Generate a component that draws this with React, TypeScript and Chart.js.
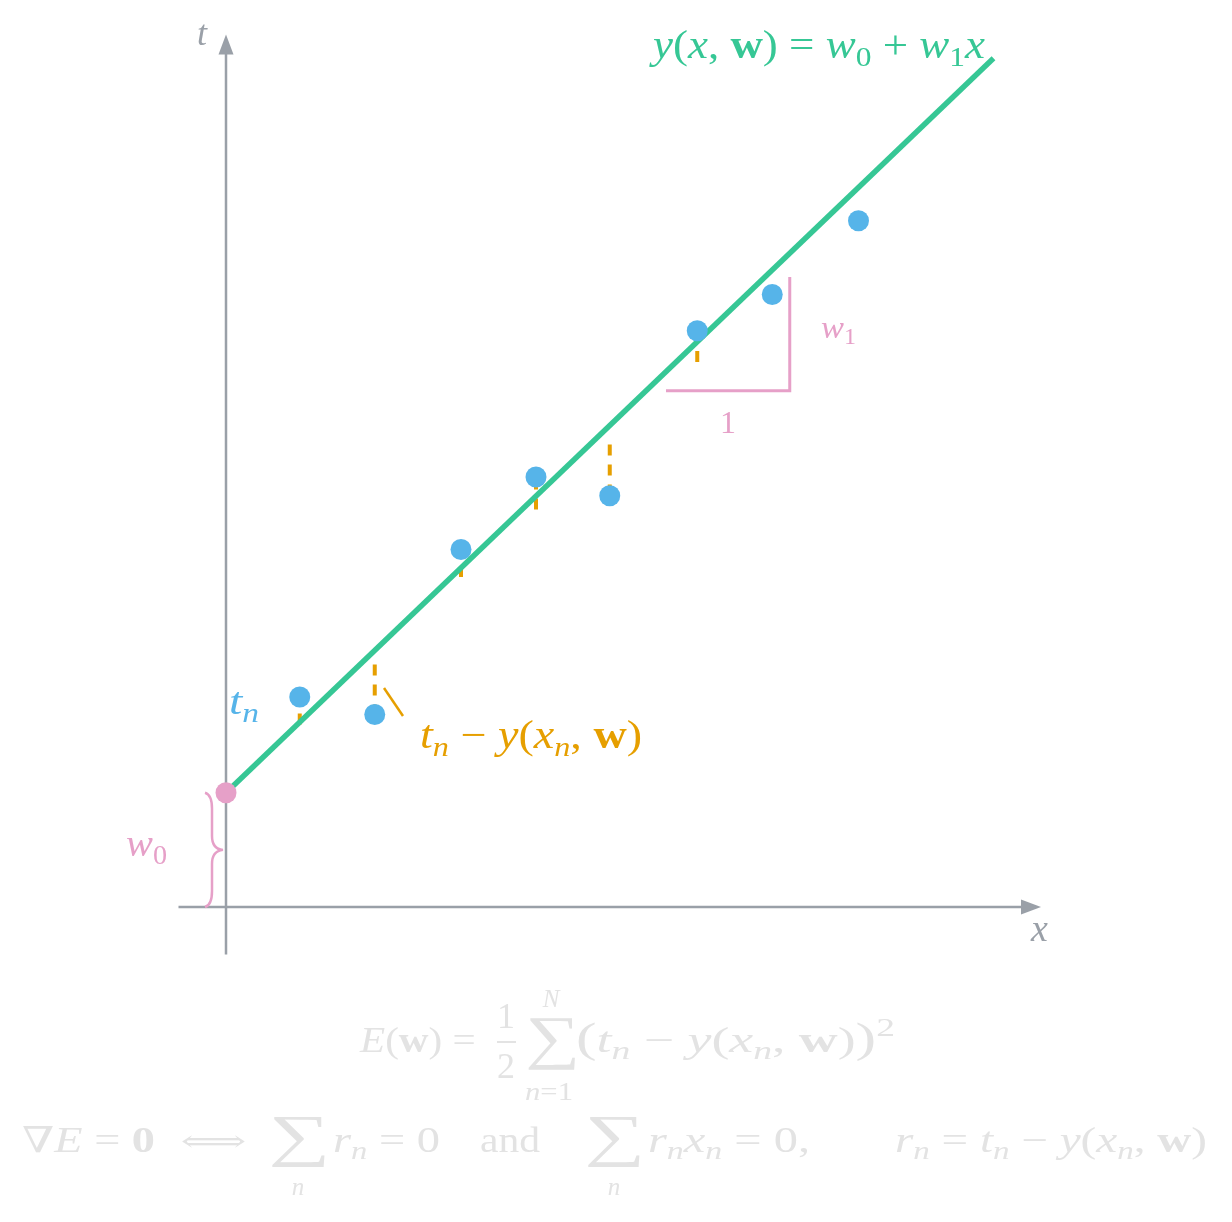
import { useEffect, useRef } from 'react';
import { Chart, registerables } from 'chart.js';

Chart.register(...registerables);

// observations (x_n, t_n)
const xs = [0.59, 1.19, 1.88, 2.48, 3.07, 3.77, 4.37, 5.06];
const ts = [1.68, 1.54, 2.86, 3.44, 3.29, 4.61, 4.9, 5.49];
// where each dashed residual mark ends, y(x_n, w)
const fitted = [1.46, 1.94, 2.64, 3.18, 3.7, 4.36, 4.9, 5.54];
// the drawn regression line
const lineX = [0, 6.14];
const lineY = [0.914, 6.79];
const w0 = 0.914;
// slope triangle (run of 1, rise of w1)
const slopeX = [3.52, 4.51, 4.51];
const slopeY = [4.13, 4.13, 5.04];

const BLUE = '#56b4e9';
const GREEN = '#36c795';
const ORANGE = '#e69f00';
const PINK = '#e6a0c8';
const GRAY = '#9aa0a8';
const LIGHT = '#e3e3e3';
const SERIF = '"Liberation Serif", "DejaVu Serif", serif';

type Piece = { t: string; f?: 'i' | 'b'; pos?: 'sub' | 'sup'; s?: number };

function setFont(ctx: CanvasRenderingContext2D, p: Piece, size: number) {
  const k = p.s ?? (p.pos ? 0.7 : 1);
  ctx.font = `${p.f === 'i' ? 'italic ' : ''}${p.f === 'b' ? 'bold ' : ''}${size * k}px ${SERIF}`;
}

function runWidth(ctx: CanvasRenderingContext2D, pieces: Piece[], size: number) {
  let w = 0;
  for (const p of pieces) {
    setFont(ctx, p, size);
    w += ctx.measureText(p.t).width;
  }
  return w;
}

// lay out a row of text pieces; optional width stretches it horizontally
function drawRun(
  ctx: CanvasRenderingContext2D,
  pieces: Piece[],
  x: number,
  y: number,
  size: number,
  color: string,
  align: 'left' | 'right' | 'center' = 'left',
  width?: number
) {
  ctx.save();
  ctx.fillStyle = color;
  ctx.textAlign = 'left';
  ctx.textBaseline = 'alphabetic';
  const natural = runWidth(ctx, pieces, size);
  const w = width ?? natural;
  const start = align === 'right' ? x - w : align === 'center' ? x - w / 2 : x;
  ctx.translate(start, y);
  ctx.scale(w / natural, 1);
  let cx = 0;
  for (const p of pieces) {
    setFont(ctx, p, size);
    const dy = p.pos === 'sub' ? 0.2 * size : p.pos === 'sup' ? -0.45 * size : 0;
    ctx.fillText(p.t, cx, dy);
    cx += ctx.measureText(p.t).width;
  }
  ctx.restore();
}

// draw a glyph stretched so its ink fills the box
function drawBox(
  ctx: CanvasRenderingContext2D,
  glyph: string,
  l: number,
  t: number,
  r: number,
  b: number,
  color: string
) {
  ctx.save();
  ctx.fillStyle = color;
  ctx.textAlign = 'left';
  ctx.textBaseline = 'alphabetic';
  ctx.font = `100px ${SERIF}`;
  const m = ctx.measureText(glyph);
  const iw = m.actualBoundingBoxRight + m.actualBoundingBoxLeft;
  const ih = m.actualBoundingBoxAscent + m.actualBoundingBoxDescent;
  ctx.translate(l, t);
  ctx.scale((r - l) / iw, (b - t) / ih);
  ctx.fillText(glyph, m.actualBoundingBoxLeft, m.actualBoundingBoxAscent);
  ctx.restore();
}

const axesPlugin = {
  id: 'axes',
  beforeDatasetsDraw(chart: Chart) {
    const { ctx } = chart;
    const sx = chart.scales.x;
    const sy = chart.scales.y;
    const ox = sx.getPixelForValue(0);
    const oy = sy.getPixelForValue(0);
    const xl = sx.getPixelForValue(-0.38);
    const xr = sx.getPixelForValue(6.52);
    const yb = sy.getPixelForValue(-0.38);
    const yt = sy.getPixelForValue(6.98);
    ctx.save();
    ctx.strokeStyle = GRAY;
    ctx.fillStyle = GRAY;
    ctx.lineWidth = 2.5;
    ctx.beginPath();
    ctx.moveTo(xl, oy);
    ctx.lineTo(xr - 18, oy);
    ctx.moveTo(ox, yb);
    ctx.lineTo(ox, yt + 18);
    ctx.stroke();
    ctx.beginPath();
    ctx.moveTo(xr, oy);
    ctx.lineTo(xr - 20, oy - 7.5);
    ctx.lineTo(xr - 20, oy + 7.5);
    ctx.closePath();
    ctx.fill();
    ctx.beginPath();
    ctx.moveTo(ox, yt);
    ctx.lineTo(ox - 7.5, yt + 20);
    ctx.lineTo(ox + 7.5, yt + 20);
    ctx.closePath();
    ctx.fill();

    // brace marking the intercept w0
    const top = sy.getPixelForValue(w0);
    const mid = (top + oy) / 2;
    const e = ox - 21;
    const s = ox - 14;
    const tip = ox - 3;
    ctx.strokeStyle = PINK;
    ctx.lineWidth = 2.5;
    ctx.beginPath();
    ctx.moveTo(e, top);
    ctx.quadraticCurveTo(s, top + 2, s, top + 16);
    ctx.lineTo(s, mid - 14);
    ctx.quadraticCurveTo(s, mid - 1, tip, mid);
    ctx.quadraticCurveTo(s, mid + 1, s, mid + 14);
    ctx.lineTo(s, oy - 16);
    ctx.quadraticCurveTo(s, oy - 2, e, oy);
    ctx.stroke();
    ctx.restore();
  },
};

const labelsPlugin = {
  id: 'labels',
  afterDatasetsDraw(chart: Chart) {
    const { ctx } = chart;
    // axis names
    drawRun(ctx, [{ t: 't', f: 'i' }], 197, 45, 36, GRAY);
    drawRun(ctx, [{ t: 'x', f: 'i' }], 1031, 941, 38, GRAY);

    // model label
    drawRun(
      ctx,
      [
        { t: 'y', f: 'i' },
        { t: '(' },
        { t: 'x', f: 'i' },
        { t: ', ' },
        { t: 'w', f: 'b' },
        { t: ') = ' },
        { t: 'w', f: 'i' },
        { t: '0', pos: 'sub' },
        { t: ' + ' },
        { t: 'w', f: 'i' },
        { t: '1', pos: 'sub' },
        { t: 'x', f: 'i' },
      ],
      985,
      58,
      40,
      GREEN,
      'right',
      332
    );

    drawRun(ctx, [{ t: 't', f: 'i' }, { t: 'n', f: 'i', pos: 'sub' }], 229, 714, 38, BLUE, 'left', 30);

    // residual call-out
    ctx.save();
    ctx.strokeStyle = ORANGE;
    ctx.lineWidth = 2.5;
    ctx.beginPath();
    ctx.moveTo(384, 688);
    ctx.lineTo(403, 716);
    ctx.stroke();
    ctx.restore();
    drawRun(
      ctx,
      [
        { t: 't', f: 'i' },
        { t: 'n', f: 'i', pos: 'sub' },
        { t: ' − ' },
        { t: 'y', f: 'i' },
        { t: '(' },
        { t: 'x', f: 'i' },
        { t: 'n', f: 'i', pos: 'sub' },
        { t: ', ' },
        { t: 'w', f: 'b' },
        { t: ')' },
      ],
      420,
      748,
      40,
      ORANGE,
      'left',
      222
    );

    // slope and intercept labels
    drawRun(ctx, [{ t: 'w', f: 'i' }, { t: '1', pos: 'sub' }], 821, 338, 32, PINK, 'left', 35);
    drawRun(ctx, [{ t: '1' }], 728, 433, 32, PINK, 'center');
    drawRun(ctx, [{ t: 'w', f: 'i' }, { t: '0', pos: 'sub' }], 126, 856, 38, PINK, 'left', 41);
  },
  afterDraw(chart: Chart) {
    const { ctx } = chart;
    const S = 36;
    const L = 25;

    // E(w) = 1/2 sum (t_n - y(x_n, w))^2
    drawRun(ctx, [{ t: 'E', f: 'i' }, { t: '(' }, { t: 'w', f: 'b' }, { t: ')' }, { t: ' = ' }], 360, 1052, S, LIGHT, 'left', 126);
    drawRun(ctx, [{ t: '1' }], 506, 1028, S, LIGHT, 'center');
    drawRun(ctx, [{ t: '2' }], 506, 1078, S, LIGHT, 'center');
    ctx.save();
    ctx.fillStyle = LIGHT;
    ctx.fillRect(497, 1041, 19, 2);
    ctx.restore();
    drawBox(ctx, '∑', 528, 1018, 575, 1070, LIGHT);
    drawRun(ctx, [{ t: 'N', f: 'i' }], 551, 1007, L, LIGHT, 'center');
    drawRun(ctx, [{ t: 'n', f: 'i' }, { t: '=1' }], 549, 1100, L, LIGHT, 'center', 48);
    drawRun(
      ctx,
      [
        { t: '(', s: 1.15 },
        { t: 't', f: 'i' },
        { t: 'n', f: 'i', pos: 'sub' },
        { t: ' − ' },
        { t: 'y', f: 'i' },
        { t: '(' },
        { t: 'x', f: 'i' },
        { t: 'n', f: 'i', pos: 'sub' },
        { t: ', ' },
        { t: 'w', f: 'b' },
        { t: ')' },
        { t: ')', s: 1.15 },
        { t: '2', pos: 'sup' },
      ],
      576,
      1052,
      S,
      LIGHT,
      'left',
      319
    );

    // stationarity conditions
    const B = 1152;
    drawRun(ctx, [{ t: '∇' }, { t: 'E', f: 'i' }, { t: ' = ' }, { t: '0', f: 'b' }], 22, B, S, LIGHT, 'left', 133);
    drawBox(ctx, '⟺', 182, 1135, 245, 1147, LIGHT);
    drawBox(ctx, '∑', 272, 1117, 325, 1168, LIGHT);
    drawRun(ctx, [{ t: 'n', f: 'i' }], 298, 1195, L, LIGHT, 'center');
    drawRun(ctx, [{ t: 'r', f: 'i' }, { t: 'n', f: 'i', pos: 'sub' }, { t: ' = 0' }], 333, B, S, LIGHT, 'left', 107);
    drawRun(ctx, [{ t: 'and' }], 480, B, S, LIGHT, 'left', 60);
    drawBox(ctx, '∑', 588, 1117, 640, 1168, LIGHT);
    drawRun(ctx, [{ t: 'n', f: 'i' }], 614, 1195, L, LIGHT, 'center');
    drawRun(
      ctx,
      [
        { t: 'r', f: 'i' },
        { t: 'n', f: 'i', pos: 'sub' },
        { t: 'x', f: 'i' },
        { t: 'n', f: 'i', pos: 'sub' },
        { t: ' = 0,' },
      ],
      648,
      B,
      S,
      LIGHT,
      'left',
      162
    );
    drawRun(
      ctx,
      [
        { t: 'r', f: 'i' },
        { t: 'n', f: 'i', pos: 'sub' },
        { t: ' = ' },
        { t: 't', f: 'i' },
        { t: 'n', f: 'i', pos: 'sub' },
        { t: ' − ' },
        { t: 'y', f: 'i' },
        { t: '(' },
        { t: 'x', f: 'i' },
        { t: 'n', f: 'i', pos: 'sub' },
        { t: ', ' },
        { t: 'w', f: 'b' },
        { t: ')' },
      ],
      895,
      B,
      S,
      LIGHT,
      'left',
      312
    );
  },
};

export default function App() {
  const canvasRef = useRef<HTMLCanvasElement>(null);

  useEffect(() => {
    if (!canvasRef.current) return;

    const residuals = xs.map((x, i) => ({
      data: [
        { x, y: fitted[i] },
        { x, y: ts[i] },
      ],
      showLine: true,
      borderColor: ORANGE,
      borderWidth: 4,
      borderDash: [11, 9],
      borderCapStyle: 'butt' as const,
      pointRadius: 0,
      order: 3,
    }));

    const chart = new Chart(canvasRef.current, {
      type: 'scatter',
      data: {
        datasets: [
          {
            data: xs.map((x, i) => ({ x, y: ts[i] })),
            backgroundColor: BLUE,
            borderWidth: 0,
            pointRadius: 10.5,
            order: 0,
          },
          {
            data: [{ x: 0, y: w0 }],
            backgroundColor: PINK,
            borderWidth: 0,
            pointRadius: 10.5,
            order: 0,
          },
          {
            data: lineX.map((x, i) => ({ x, y: lineY[i] })),
            showLine: true,
            borderColor: GREEN,
            borderWidth: 5.5,
            borderCapStyle: 'butt',
            pointRadius: 0,
            order: 1,
          },
          {
            data: slopeX.map((x, i) => ({ x, y: slopeY[i] })),
            showLine: true,
            borderColor: PINK,
            borderWidth: 3,
            borderJoinStyle: 'miter',
            pointRadius: 0,
            order: 2,
          },
          ...residuals,
        ],
      },
      options: {
        responsive: true,
        maintainAspectRatio: false,
        animation: false,
        events: [],
        layout: { padding: 0, autoPadding: false },
        scales: {
          x: { type: 'linear', display: false, min: -1.808, max: 8.048 },
          y: { type: 'linear', display: false, min: -2.52, max: 7.256 },
        },
        plugins: {
          legend: { display: false },
          tooltip: { enabled: false },
        },
      },
      plugins: [axesPlugin, labelsPlugin],
    });

    return () => chart.destroy();
  }, []);

  return (
    <div style={{ position: 'absolute', left: 0, top: 0, width: 1232, height: 1222, background: '#fff' }}>
      <canvas ref={canvasRef} />
    </div>
  );
}
